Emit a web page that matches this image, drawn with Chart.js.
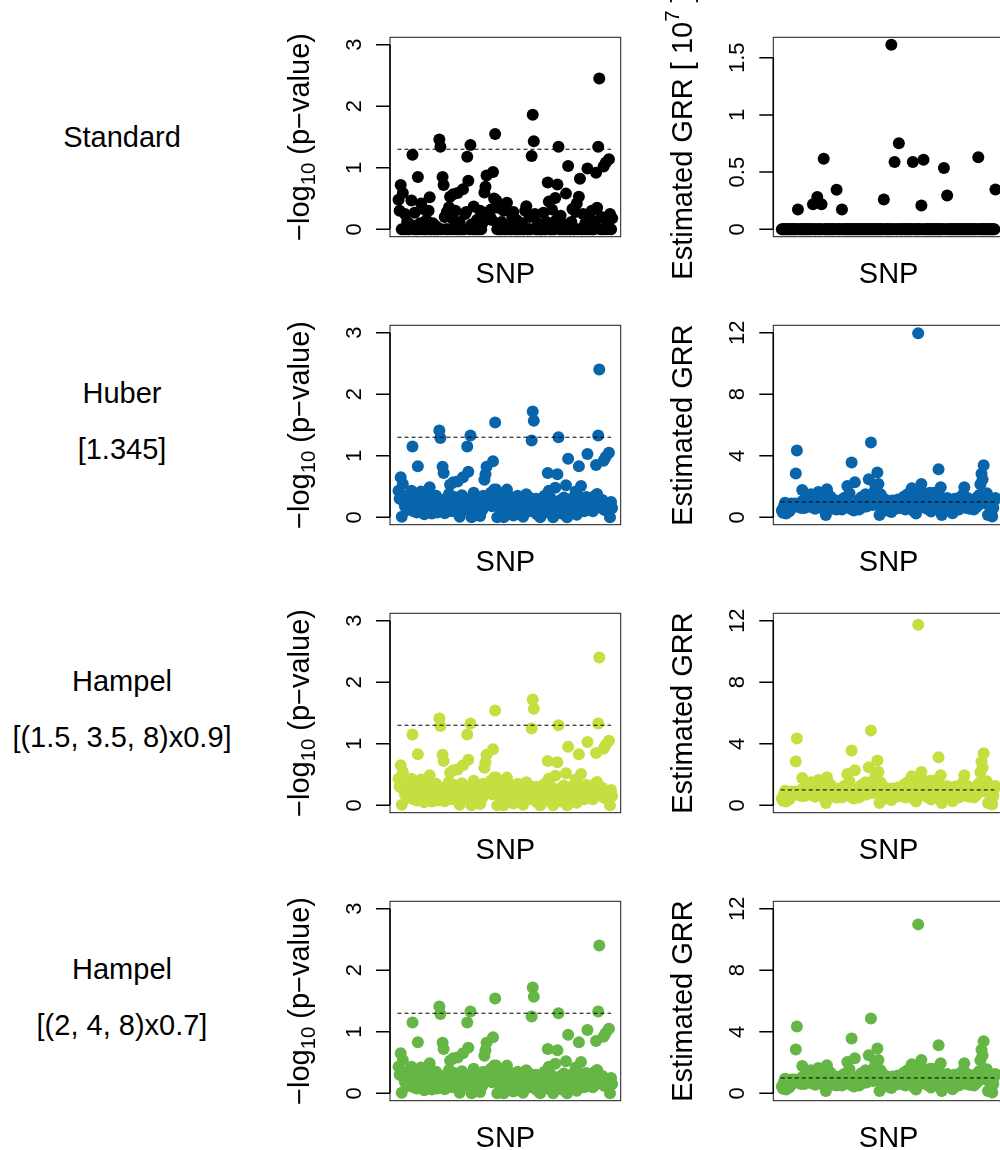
<!DOCTYPE html>
<html>
<head>
<meta charset="utf-8">
<script src="https://cdn.jsdelivr.net/npm/chart.js@4.4.1/dist/chart.umd.min.js"></script>
<style>
  html, body { margin: 0; padding: 0; background: #fff; overflow: hidden; }
  #fig { position: relative; width: 1000px; height: 1150px; overflow: hidden; }
  #fig canvas { position: absolute; }
  .rowlab {
    position: absolute; left: 0; width: 244px; text-align: center;
    font: 29px "Liberation Sans", Arial, sans-serif; line-height: 29px; color: #000;
    white-space: nowrap;
  }
</style>
</head>
<body>
<div id="fig"></div>
<script>
// SNP-wise association results: -log10 p-values and estimated GRR, one row per estimator
const SNP_COUNT = 200;

const methodNames = ['Standard', 'Huber', 'Hampel', 'Hampel'];
const methodParams = ['', '[1.345]', '[(1.5, 3.5, 8)x0.9]', '[(2, 4, 8)x0.7]'];
const methodColors = ['#000000', '#0865AB', '#C5DF41', '#65B645'];

const pTicks = [0, 1, 2, 3];
const grrStdTicks = [0, 0.5, 1, 1.5];
const grrStdTickLabels = ['0', '0.5', '1', '1.5'];
const grrRobustTicks = [0, 4, 8, 12];

const P_THRESHOLD = 1.301;   // -log10(0.05)
const GRR_NULL = 1;

// standard (ML) fit, -log10 p
const pStandard = [
  0.48, 0.3, 0.72, 0, 0.59, 0, 0.25, 0, 0.12, 0,
  0, 0.08, 0.47, 1.21, 0, 0.27, 0, 0, 0.85, 0,
  0.1, 0.42, 0, 0.33, 0, 0, 0.15, 0, 0.3, 0.52,
  0, 0, 0.1, 0, 0, 0.05, 0, 0, 1.46, 1.34,
  0, 0.85, 0.72, 0.2, 0, 0.28, 0, 0.36, 0.53, 0,
  0.18, 0.57, 0, 0.3, 0, 0.59, 0, 0.12, 0, 0,
  0.65, 0, 0.25, 0.28, 1.18, 0.79, 0, 1.37, 0.08, 0,
  0.37, 0, 0, 0.15, 0, 0, 0.3, 0, 0.1, 0.18,
  0.6, 0.69, 0.875, 0.2, 0.28, 0.22, 0.32, 0.15, 0.93, 0.5,
  1.55, 0.47, 0, 0.35, 0, 0, 0.12, 0, 0.3, 0,
  0, 0.43, 0, 0.08, 0, 0, 0.2, 0.28, 0, 0,
  0.15, 0, 0, 0.05, 0, 0.1, 0, 0, 0.3, 0.375,
  0, 0, 0.2, 0, 1.19, 1.86, 1.43, 0.25, 0, 0,
  0.1, 0, 0, 0, 0, 0.27, 0, 0, 0.12, 0.76,
  0.45, 0, 0, 0.32, 0, 0, 0.51, 0.15, 0.73, 1.34,
  0, 0.22, 0, 0, 0.08, 0, 0.58, 0, 1.03, 0,
  0, 0.12, 0.33, 0, 0, 0.28, 0.42, 0, 0.53, 0.82,
  0, 0, 0.25, 0, 0.1, 0, 0.99, 0, 0.18, 0,
  0.3, 0, 0, 0.12, 0.92, 0.35, 1.34, 2.45, 0, 0.2,
  0, 1.02, 0, 1.08, 0.15, 0, 1.14, 0.25, 0, 0.18
];

// standard fit, GRR in units of 10^7
const grrStandard = [
  0, 0, 0, 0, 0, 0, 0, 0, 0, 0,
  0, 0, 0, 0, 0, 0.173, 0, 0, 0, 0,
  0, 0, 0, 0, 0, 0, 0, 0, 0, 0.219,
  0, 0, 0, 0.283, 0, 0, 0, 0.219, 0, 0.617,
  0, 0, 0, 0, 0, 0, 0, 0, 0, 0,
  0, 0.345, 0, 0, 0, 0, 0.173, 0, 0, 0,
  0, 0, 0, 0, 0, 0, 0, 0, 0, 0,
  0, 0, 0, 0, 0, 0, 0, 0, 0, 0,
  0, 0, 0, 0, 0, 0, 0, 0, 0, 0,
  0, 0, 0, 0, 0, 0.26, 0, 0, 0, 0,
  0, 0, 1.614, 0, 0, 0.588, 0, 0, 0, 0.752,
  0, 0, 0, 0, 0, 0, 0, 0, 0, 0,
  0, 0, 0.588, 0, 0, 0, 0, 0, 0, 0,
  0.208, 0, 0.608, 0, 0, 0, 0, 0, 0, 0,
  0, 0, 0, 0, 0, 0, 0, 0, 0, 0,
  0, 0.535, 0, 0, 0.295, 0, 0, 0, 0, 0,
  0, 0, 0, 0, 0, 0, 0, 0, 0, 0,
  0, 0, 0, 0, 0, 0, 0, 0, 0, 0,
  0, 0, 0, 0.629, 0, 0, 0, 0, 0, 0,
  0, 0, 0, 0, 0, 0, 0, 0, 0, 0.348
];

// robust fits (Huber / Hampel give the same p-values at this resolution)
const pRobust = [
  0.43, 0.3, 0.65, 0.01, 0.54, 0.25, 0.18, 0.35, 0.12, 0.22,
  0.28, 0.15, 0.43, 1.15, 0.1, 0.3, 0.2, 0.08, 0.83, 0.25,
  0.14, 0.42, 0.3, 0.18, 0.05, 0.27, 0.1, 0.22, 0.33, 0.49,
  0.15, 0.06, 0.28, 0.12, 0.2, 0.35, 0.08, 0.25, 1.41, 1.29,
  0.18, 0.82, 0.72, 0.065, 0.3, 0.22, 0.12, 0.38, 0.53, 0.27,
  0.1, 0.57, 0.33, 0.2, 0.15, 0.58, 0.28, 0.01, 0.24, 0.36,
  0.65, 0.12, 0.3, 0.2, 1.15, 0.74, 0.26, 1.33, 0, 0.18,
  0.4, 0.1, 0.25, 0.32, 0.15, 0.22, 0.02, 0.3, 0.12, 0.35,
  0.61, 0.7, 0.82, 0.22, 0.3, 0.25, 0.4, 0.18, 0.91, 0.45,
  1.54, 0.45, 0, 0.28, 0.15, 0.35, 0.2, 0.1, 0, 0.3,
  0.18, 0.45, 0.25, 0.12, 0.33, 0.08, 0.22, 0.03, 0.3, 0.15,
  0.2, 0.35, 0.1, 0.26, 0.18, 0.3, 0.01, 0.12, 0.28, 0.375,
  0.15, 0.24, 0.32, 0.1, 1.25, 1.72, 1.57, 0.2, 0.3, 0.05,
  0.25, 0.15, 0, 0.3, 0.12, 0.2, 0.35, 0.08, 0.27, 0.72,
  0.43, 0.18, 0.3, 0.1, 0, 0.22, 0.48, 0.15, 0.7, 1.3,
  0.2, 0.28, 0.06, 0.15, 0.32, 0.1, 0.52, 0, 0.95, 0.22,
  0.12, 0.3, 0.18, 0.25, 0.08, 0.42, 0.04, 0.35, 0.83, 0.2,
  0.51, 0.15, 0.28, 0.1, 0.22, 0.33, 1.03, 0.12, 0.25, 0.18,
  0.3, 0.1, 0.2, 0.35, 0.85, 0.38, 1.33, 2.4, 0.22, 0.15,
  0.28, 0.92, 0.12, 0.98, 0.2, 0.1, 1.05, 0, 0.25, 0.15
];

const grrRobust = [
  0.45, 0.3, 0.75, 0.95, 0.25, 0.6, 0.85, 0.4, 0.7, 0.9,
  0.8, 0.65, 0.9, 2.85, 4.35, 0.75, 0.7, 0.95, 0.6, 1.78,
  1.1, 0.6, 0.9, 1.25, 0.7, 1.4, 0.85, 1.5, 0.65, 1.0,
  1.2, 0.55, 1.45, 0.9, 1.65, 0.75, 1.1, 0.6, 1.3, 0.85,
  1.0, 0.15, 1.83, 1.5, 0.7, 1.35, 0.9, 1.2, 0.55, 1.0,
  0.8, 0.5, 0.95, 0.6, 1.1, 0.7, 0.5, 0.85, 1.25, 0.65,
  1.3, 2.04, 0.9, 1.57, 0.55, 3.57, 0.7, 0.45, 2.28, 0.6,
  0.8, 1.1, 0.5, 0.95, 1.3, 0.65, 1.2, 0.85, 1.5, 0.7,
  1.4, 2.48, 1.0, 4.87, 1.25, 0.8, 1.67, 2.1, 1.45, 2.91,
  2.17, 0.15, 1.5, 0.9, 0.6, 1.2, 0.45, 0.85, 1.1, 0.5,
  0.95, 0.7, 0.35, 1.1, 0.6, 1.0, 0.55, 0.8, 1.15, 0.65,
  0.9, 0.6, 1.2, 0.75, 1.35, 0.5, 1.0, 1.5, 0.8, 1.3,
  0.7, 1.89, 1.55, 0.4, 1.0, 0.25, 1.3, 11.96, 0.6, 1.65,
  2.17, 1.4, 0.8, 1.57, 1.2, 0.55, 1.45, 0.9, 1.6, 0.37,
  1.1, 0.5, 1.6, 0.8, 1.2, 0.6, 3.13, 1.35, 1.96, 0.15,
  0.9, 0.5, 1.05, 0.7, 1.25, 0.6, 0.95, 0.45, 1.1, 0.26,
  0.75, 1.2, 0.55, 1.0, 0.85, 0.5, 1.3, 0.7, 1.1, 1.5,
  1.96, 0.9, 0.6, 1.25, 0.8, 0.55, 1.1, 0.7, 0.95, 0.5,
  1.0, 0.65, 1.3, 0.8, 1.45, 2.15, 2.83, 2.48, 3.39, 1.2,
  0.9, 1.57, 0.15, 1.0, 0.7, 1.15, 0.05, 0.6, 1.1, 1.25
];

// the top GRR SNP differs between the robust estimators
const GRR_PEAK_SNP = 128;
const grrPeak = [null, 11.96, 11.74, 10.98];

/* ---- layout (px) ---- */
const ROW_H = 288;
const BOX_TOP = 37.3, BOX_BOTTOM = 236.7;
const FONT = '"Liberation Sans", Arial, Helvetica, sans-serif';

function xRange() {
  // R-style 4% expansion of 1..N
  const pad = 0.04 * (SNP_COUNT - 1);
  return { min: 1 - pad, max: SNP_COUNT + pad };
}
function yRange(lo, hi) {
  const pad = 0.04 * (hi - lo);
  return { min: lo - pad, max: hi + pad };
}

// box, left axis, rotated tick labels, axis titles (plotmath-ish) and the "SNP" label
const rAxes = {
  id: 'rAxes',
  afterDatasetsDraw(chart, args, o) {
    const ctx = chart.ctx, a = chart.chartArea, y = chart.scales.y;
    ctx.save();
    ctx.strokeStyle = '#1a1a1a';
    ctx.lineWidth = 1;
    ctx.strokeRect(a.left, a.top, a.right - a.left, a.bottom - a.top);

    const yTop = y.getPixelForValue(o.ticks[o.ticks.length - 1]);
    const yBot = y.getPixelForValue(o.ticks[0]);
    ctx.strokeStyle = '#000';
    ctx.lineWidth = 1.5;
    ctx.beginPath();
    ctx.moveTo(a.left, yTop);
    ctx.lineTo(a.left, yBot);
    o.ticks.forEach(function (v) {
      const py = y.getPixelForValue(v);
      ctx.moveTo(a.left, py);
      ctx.lineTo(a.left - 14, py);
    });
    ctx.stroke();

    ctx.fillStyle = '#000';
    ctx.textBaseline = 'alphabetic';
    ctx.font = '22px ' + FONT;
    ctx.textAlign = 'center';
    o.ticks.forEach(function (v, i) {
      ctx.save();
      ctx.translate(a.left - 29, y.getPixelForValue(v));
      ctx.rotate(-Math.PI / 2);
      ctx.fillText(o.tickLabels[i], 0, 0);
      ctx.restore();
    });

    ctx.save();
    ctx.translate(a.left - 81, (a.top + a.bottom) / 2);
    ctx.rotate(-Math.PI / 2);
    drawRich(ctx, o.title, 29);
    ctx.restore();

    ctx.font = '29px ' + FONT;
    ctx.textAlign = 'center';
    ctx.fillText('SNP', (a.left + a.right) / 2, a.bottom + 46.3);
    ctx.restore();
  }
};

function drawRich(ctx, parts, size) {
  let total = 0;
  const runs = parts.map(function (p) {
    const s = p.script ? size * 0.7 : size;
    ctx.font = s + 'px ' + FONT;
    const w = ctx.measureText(p.text).width;
    total += w;
    return { p: p, s: s, w: w };
  });
  let x = -total / 2;
  ctx.textAlign = 'left';
  runs.forEach(function (r) {
    ctx.font = r.s + 'px ' + FONT;
    let dy = 0;
    if (r.p.script === 'sub') dy = size * 0.22;
    if (r.p.script === 'sup') dy = -size * 0.45;
    ctx.fillText(r.p.text, x, dy);
    x += r.w;
  });
}

function points(values) {
  return values.map(function (v, i) { return { x: i + 1, y: v }; });
}

function makePanel(fig, row, side, values, color, yr, refY, axis) {
  const left = side === 0 ? 260 : 650;
  const width = side === 0 ? 400 : 360;
  const boxLeft = side === 0 ? 390 : 773.3;
  const boxRight = side === 0 ? 620.7 : 1004;
  const c = document.createElement('canvas');
  c.width = width;
  c.height = ROW_H;
  c.style.left = left + 'px';
  c.style.top = (row * ROW_H) + 'px';
  fig.appendChild(c);

  const datasets = [{
    data: points(values),
    backgroundColor: color,
    borderWidth: 0,
    pointRadius: 6,
    pointHoverRadius: 6,
    order: 1,
    clip: false
  }];
  // dashed reference level, drawn over the points
  if (refY !== null) {
    datasets.push({
      type: 'line',
      data: [{ x: 0, y: refY }, { x: SNP_COUNT - 1, y: refY }],
      borderColor: '#000',
      borderWidth: 1,
      borderDash: [4, 3],
      pointRadius: 0,
      fill: false,
      order: 0,
      clip: false
    });
  }

  const xr = xRange();
  new Chart(c, {
    type: 'scatter',
    data: { datasets: datasets },
    options: {
      responsive: false,
      animation: false,
      events: [],
      devicePixelRatio: 1,
      layout: {
        padding: {
          left: boxLeft - left,
          right: left + width - boxRight,
          top: BOX_TOP,
          bottom: ROW_H - BOX_BOTTOM
        }
      },
      scales: {
        x: { type: 'linear', display: false, min: xr.min, max: xr.max },
        y: { type: 'linear', display: false, min: yr.min, max: yr.max }
      },
      plugins: {
        legend: { display: false },
        tooltip: { enabled: false },
        rAxes: axis
      }
    },
    plugins: [rAxes]
  });
}

function rowLabel(fig, text, top) {
  const d = document.createElement('div');
  d.className = 'rowlab';
  d.style.top = top + 'px';
  d.textContent = text;
  fig.appendChild(d);
}

const fig = document.getElementById('fig');
const pTitle = [{ text: '\u2212log' }, { text: '10', script: 'sub' }, { text: ' (p\u2212value)' }];

methodNames.forEach(function (name, row) {
  const color = methodColors[row];
  const base = row * ROW_H;
  if (methodParams[row]) {
    rowLabel(fig, name, base + 115 - 24.5);
    rowLabel(fig, methodParams[row], base + 171 - 24.5);
  } else {
    rowLabel(fig, name, base + 147.3 - 24.5);
  }

  const pVals = row === 0 ? pStandard : pRobust;
  makePanel(fig, row, 0, pVals, color, yRange(0, 3), P_THRESHOLD, {
    ticks: pTicks,
    tickLabels: pTicks.map(String),
    title: pTitle
  });

  if (row === 0) {
    makePanel(fig, row, 1, grrStandard, color, yRange(0, Math.max.apply(null, grrStandard)), null, {
      ticks: grrStdTicks,
      tickLabels: grrStdTickLabels,
      title: [{ text: 'Estimated GRR [ 10' }, { text: '7', script: 'sup' }, { text: ' ]' }]
    });
  } else {
    const grr = grrRobust.slice();
    grr[GRR_PEAK_SNP - 1] = grrPeak[row];
    makePanel(fig, row, 1, grr, color, yRange(0, 12), GRR_NULL, {
      ticks: grrRobustTicks,
      tickLabels: grrRobustTicks.map(String),
      title: [{ text: 'Estimated GRR' }]
    });
  }
});
</script>
</body>
</html>
